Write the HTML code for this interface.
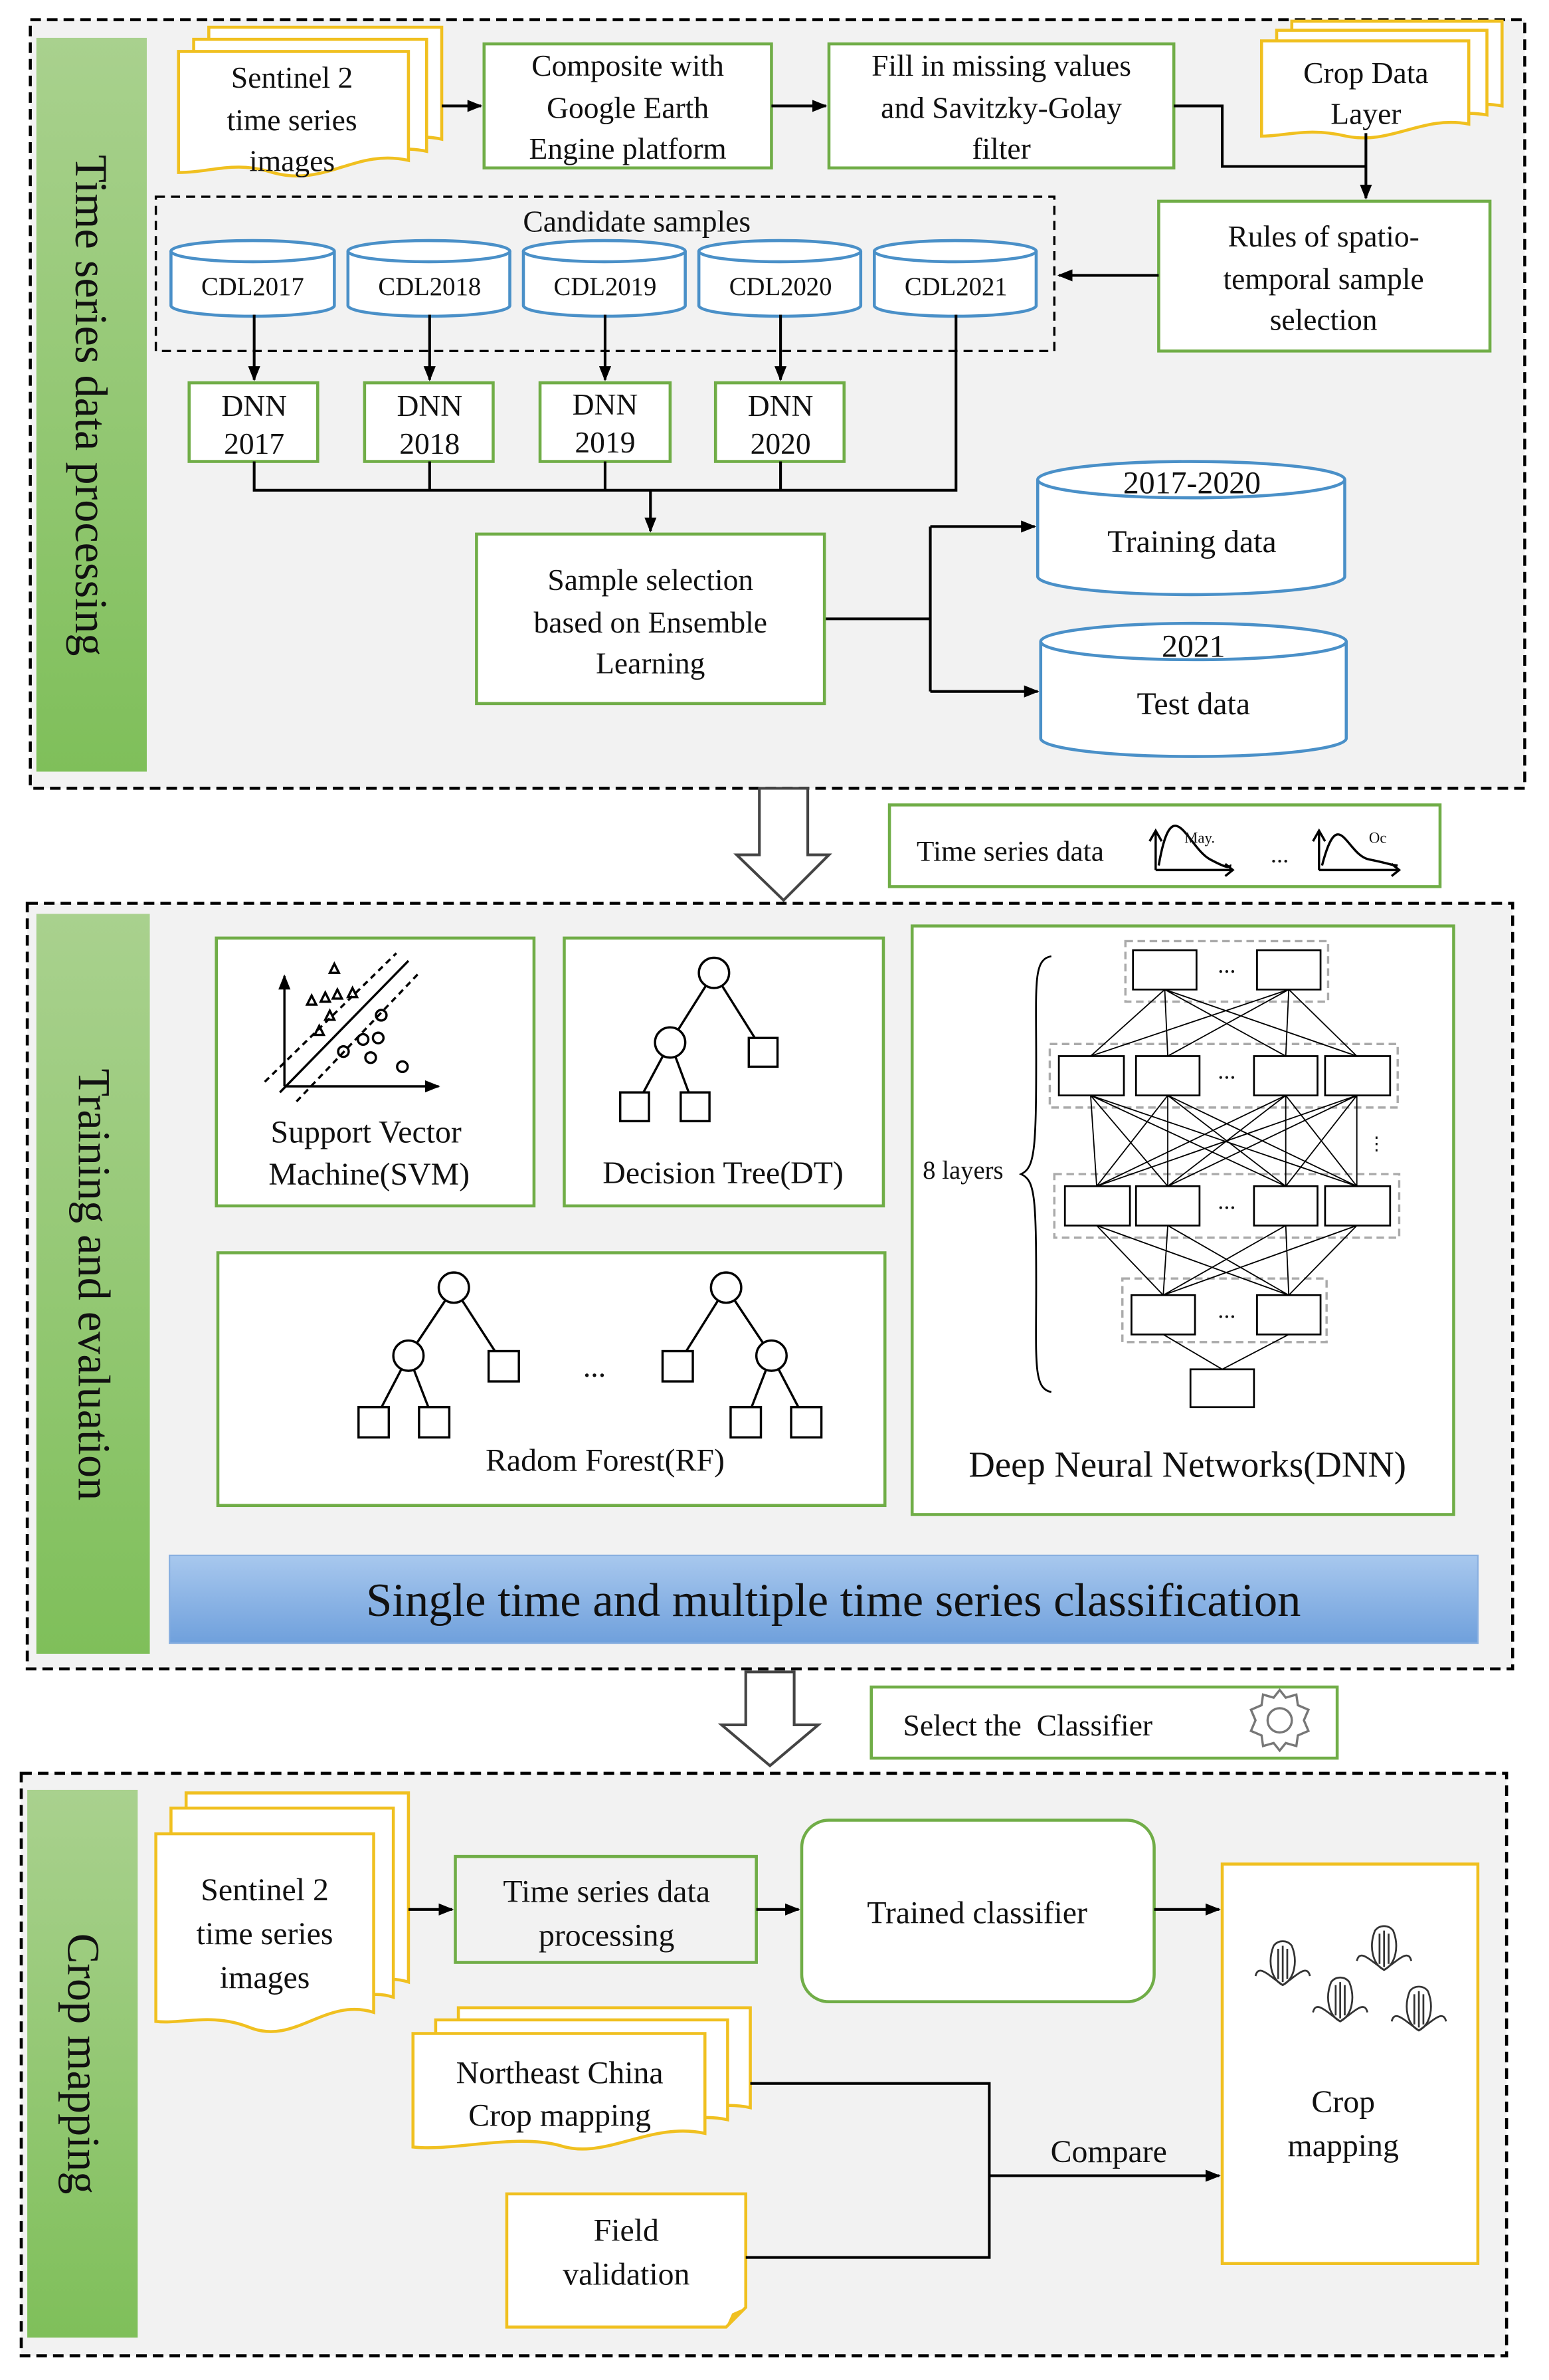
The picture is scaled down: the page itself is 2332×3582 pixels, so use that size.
<!DOCTYPE html>
<html><head><meta charset="utf-8"><style>
html,body{margin:0;padding:0;background:#fff}
svg{display:block;font-family:"Liberation Serif","Times New Roman",serif}
svg text{font-family:"Liberation Serif","Times New Roman",serif !important;fill:#111}
</style></head><body>
<svg width="2332" height="3582" viewBox="0 0 1024 1573" xmlns="http://www.w3.org/2000/svg" font-family="Liberation Serif, serif">
<defs>
<linearGradient id="g" x1="0" y1="0" x2="0" y2="1"><stop offset="0" stop-color="#a9d18e"/><stop offset="1" stop-color="#7fbf5a"/></linearGradient>
<linearGradient id="b" x1="0" y1="0" x2="0" y2="1"><stop offset="0" stop-color="#a8c8ee"/><stop offset="1" stop-color="#6fa0dc"/></linearGradient>
<marker id="a" markerWidth="10" markerHeight="8" refX="9" refY="4" orient="auto" markerUnits="userSpaceOnUse"><path d="M0,0 L10,4 L0,8 Z" fill="#000"/></marker>
</defs>
<rect width="1024" height="1573" fill="#fff"/>
<!-- Section 1 -->
<rect x="20" y="13" width="988" height="508" fill="#f2f2f2" stroke="#000" stroke-width="2" stroke-dasharray="7,4"/>
<rect x="24" y="25" width="73" height="485" fill="url(#g)"/>
<text transform="translate(50,268) rotate(90)" text-anchor="middle" font-size="30" font-family="Liberation Serif, serif">Time series data processing</text>
<g fill="#fff" stroke="#f0c020" stroke-width="2">
<path d="M138,18 H292 V92 C255,84 235,112 200,100 C175,92 160,100 138,100 Z"/>
<path d="M128,26 H282 V100 C245,92 225,120 190,108 C165,100 150,108 128,108 Z"/>
<path d="M118,34 H270 V106 C235,98 215,124 180,114 C155,106 140,114 118,114 Z"/>
<path d="M854,14 H993 V70 C960,64 940,86 910,78 C885,72 870,78 854,78 Z"/>
<path d="M844,20 H983 V76 C950,70 930,92 900,84 C875,78 860,84 844,84 Z"/>
<path d="M834,27 H971 V82 C940,76 920,96 890,90 C865,84 850,90 834,90 Z"/>
</g>
<g font-size="20" text-anchor="middle" font-family="Liberation Serif, serif">
<text x="193" y="58">Sentinel 2</text><text x="193" y="86">time series</text><text x="193" y="113">images</text>
<text x="903" y="55">Crop Data</text><text x="903" y="82">Layer</text>
</g>
<g fill="#fff" stroke="#70ad47" stroke-width="2">
<rect x="320" y="29" width="190" height="82"/><rect x="548" y="29" width="228" height="82"/>
<rect x="766" y="133" width="219" height="99"/>
</g>
<g font-size="20" text-anchor="middle" font-family="Liberation Serif, serif">
<text x="415" y="50">Composite with</text><text x="415" y="78">Google Earth</text><text x="415" y="105">Engine platform</text>
<text x="662" y="50">Fill in missing values</text><text x="662" y="78">and Savitzky-Golay</text><text x="662" y="105">filter</text>
<text x="875" y="163">Rules of spatio-</text><text x="875" y="191">temporal sample</text><text x="875" y="218">selection</text>
</g>
<g stroke="#000" stroke-width="1.8" fill="none">
<line x1="292" y1="70" x2="318" y2="70" marker-end="url(#a)"/>
<line x1="510" y1="70" x2="546" y2="70" marker-end="url(#a)"/>
<polyline points="776,70 808,70 808,110 903,110"/>
<line x1="903" y1="88" x2="903" y2="131" marker-end="url(#a)"/>
<line x1="766" y1="182" x2="700" y2="182" marker-end="url(#a)"/>
</g>
<rect x="103" y="130" width="594" height="102" fill="none" stroke="#000" stroke-width="1.5" stroke-dasharray="6,4"/>
<text x="421" y="153" font-size="20" text-anchor="middle" font-family="Liberation Serif, serif">Candidate samples</text>
<g fill="#fff" stroke="#4a90c8" stroke-width="2">
<path d="M113,166 V202 A54,7 0 0 0 221,202 V166"/><ellipse cx="167" cy="166" rx="54" ry="7"/>
<path d="M230,166 V202 A53.5,7 0 0 0 337,202 V166"/><ellipse cx="283.5" cy="166" rx="53.5" ry="7"/>
<path d="M346,166 V202 A53.5,7 0 0 0 453,202 V166"/><ellipse cx="399.5" cy="166" rx="53.5" ry="7"/>
<path d="M462,166 V202 A53.5,7 0 0 0 569,202 V166"/><ellipse cx="515.5" cy="166" rx="53.5" ry="7"/>
<path d="M578,166 V202 A53.5,7 0 0 0 685,202 V166"/><ellipse cx="631.5" cy="166" rx="53.5" ry="7"/>
</g>
<g font-size="17" text-anchor="middle" font-family="Liberation Serif, serif">
<text x="167" y="195">CDL2017</text><text x="284" y="195">CDL2018</text><text x="400" y="195">CDL2019</text><text x="516" y="195">CDL2020</text><text x="632" y="195">CDL2021</text>
</g>
<g fill="#fff" stroke="#70ad47" stroke-width="2">
<rect x="125" y="253" width="85" height="52"/><rect x="241" y="253" width="85" height="52"/>
<rect x="357" y="253" width="86" height="52"/><rect x="473" y="253" width="85" height="52"/>
</g>
<g font-size="20" text-anchor="middle" font-family="Liberation Serif, serif">
<text x="168" y="275">DNN</text><text x="168" y="300">2017</text>
<text x="284" y="275">DNN</text><text x="284" y="300">2018</text>
<text x="400" y="274">DNN</text><text x="400" y="299">2019</text>
<text x="516" y="275">DNN</text><text x="516" y="300">2020</text>
</g>
<g stroke="#000" stroke-width="1.8" fill="none">
<line x1="168" y1="208" x2="168" y2="251" marker-end="url(#a)"/>
<line x1="284" y1="208" x2="284" y2="251" marker-end="url(#a)"/>
<line x1="400" y1="208" x2="400" y2="251" marker-end="url(#a)"/>
<line x1="516" y1="208" x2="516" y2="251" marker-end="url(#a)"/>
<polyline points="168,305 168,324 632,324 632,208"/>
<line x1="284" y1="305" x2="284" y2="324"/><line x1="400" y1="305" x2="400" y2="324"/><line x1="516" y1="305" x2="516" y2="324"/>
<line x1="430" y1="324" x2="430" y2="351" marker-end="url(#a)"/>
<line x1="545" y1="409" x2="615" y2="409"/>
<line x1="615" y1="348" x2="615" y2="457"/>
<line x1="615" y1="348" x2="684" y2="348" marker-end="url(#a)"/>
<line x1="615" y1="457" x2="686" y2="457" marker-end="url(#a)"/>
</g>
<rect x="315" y="353" width="230" height="112" fill="#fff" stroke="#70ad47" stroke-width="2"/>
<g font-size="20" text-anchor="middle" font-family="Liberation Serif, serif">
<text x="430" y="390">Sample selection</text><text x="430" y="418">based on Ensemble</text><text x="430" y="445">Learning</text>
</g>
<g fill="#fff" stroke="#4a90c8" stroke-width="2">
<path d="M686,317 V381 A101.5,12 0 0 0 889,381 V317"/><ellipse cx="787.5" cy="317" rx="101.5" ry="12"/>
<path d="M688,424 V488 A101,12 0 0 0 890,488 V424"/><ellipse cx="789" cy="424" rx="101" ry="12"/>
</g>
<g font-size="21" text-anchor="middle" font-family="Liberation Serif, serif">
<text x="788" y="326">2017-2020</text><text x="788" y="365">Training data</text>
<text x="789" y="434">2021</text><text x="789" y="472">Test data</text>
</g>
<!-- arrow 1 -->
<path d="M502,521 H534 V565 H548 L518,595 L487,565 H502 Z" fill="#fff" stroke="#444" stroke-width="1.8"/>
<rect x="588" y="532" width="364" height="54" fill="#fff" stroke="#70ad47" stroke-width="2"/>
<text x="606" y="569" font-size="19" font-family="Liberation Serif, serif">Time series data</text>
<g stroke="#000" fill="none" stroke-width="1.5">
<path d="M764,575 V550 M760,556 L764,549 L768,556 M764,575 H815 M810,571 L815,575 L810,579"/>
<path d="M766,572 C775,520 785,560 800,568 S812,572 814,572"/>
<path d="M872,575 V550 M868,556 L872,549 L876,556 M872,575 H925 M920,571 L925,575 L920,579"/>
<path d="M874,572 C885,530 890,565 905,568 S920,572 924,572"/>
</g>
<text x="783" y="557" font-size="10" font-family="Liberation Serif, serif">May.</text><text x="905" y="557" font-size="10" font-family="Liberation Serif, serif">Oc</text>
<text x="840" y="570" font-size="16" font-family="Liberation Serif, serif">...</text>
<!-- Section 2 -->
<rect x="18" y="597" width="982" height="506" fill="#f2f2f2" stroke="#000" stroke-width="2" stroke-dasharray="7,4"/>
<rect x="24" y="604" width="75" height="489" fill="url(#g)"/>
<text transform="translate(52,849) rotate(90)" text-anchor="middle" font-size="30" font-family="Liberation Serif, serif">Training and evaluation</text>
<g fill="#fff" stroke="#70ad47" stroke-width="2">
<rect x="143" y="620" width="210" height="177"/><rect x="373" y="620" width="211" height="177"/>
<rect x="603" y="612" width="358" height="389"/><rect x="144" y="828" width="441" height="167"/>
</g>
<!-- SVM -->
<g stroke="#000" fill="none" stroke-width="1.5">
<line x1="188" y1="718" x2="188" y2="645" marker-end="url(#a)"/>
<line x1="188" y1="718" x2="290" y2="718" marker-end="url(#a)"/>
<line x1="175" y1="715" x2="262" y2="630" stroke-dasharray="4,3"/>
<line x1="185" y1="722" x2="270" y2="635"/>
<line x1="196" y1="728" x2="278" y2="642" stroke-dasharray="4,3"/>
<circle cx="227" cy="695" r="3.5"/><circle cx="240" cy="687" r="3.5"/><circle cx="252" cy="671" r="3.5"/><circle cx="250" cy="686" r="3.5"/><circle cx="245" cy="699" r="3.5"/><circle cx="266" cy="705" r="3.5"/>
<path d="M203,664 l3,-6 l3,6 z M212,662 l3,-6 l3,6 z M220,660 l3,-6 l3,6 z M230,659 l3,-6 l3,6 z M218,643 l3,-6 l3,6 z M208,684 l3,-6 l3,6 z M215,674 l3,-6 l3,6 z"/>
</g>
<g font-size="21" text-anchor="middle" font-family="Liberation Serif, serif"><text x="242" y="755">Support Vector</text><text x="244" y="783">Machine(SVM)</text>
<text x="478" y="782">Decision Tree(DT)</text></g>
<!-- DT -->
<g stroke="#000" fill="#fff" stroke-width="1.5">
<line x1="472" y1="643" x2="443" y2="689"/><line x1="472" y1="643" x2="504" y2="694"/>
<line x1="443" y1="689" x2="420" y2="732"/><line x1="443" y1="689" x2="459" y2="732"/>
<circle cx="472" cy="643" r="10"/><circle cx="443" cy="689" r="10"/>
<rect x="495" y="686" width="19" height="19"/><rect x="410" y="722" width="19" height="19"/><rect x="450" y="722" width="19" height="19"/>
</g>
<!-- RF -->
<g stroke="#000" fill="#fff" stroke-width="1.5">
<line x1="300" y1="851" x2="270" y2="896"/><line x1="300" y1="851" x2="333" y2="902"/>
<line x1="270" y1="896" x2="247" y2="940"/><line x1="270" y1="896" x2="287" y2="940"/>
<circle cx="300" cy="851" r="10"/><circle cx="270" cy="896" r="10"/>
<rect x="323" y="893" width="20" height="20"/><rect x="237" y="930" width="20" height="20"/><rect x="277" y="930" width="20" height="20"/>
<line x1="480" y1="851" x2="448" y2="902"/><line x1="480" y1="851" x2="510" y2="896"/>
<line x1="510" y1="896" x2="493" y2="940"/><line x1="510" y1="896" x2="533" y2="940"/>
<circle cx="480" cy="851" r="10"/><circle cx="510" cy="896" r="10"/>
<rect x="438" y="893" width="20" height="20"/><rect x="483" y="930" width="20" height="20"/><rect x="523" y="930" width="20" height="20"/>
</g>
<text x="393" y="910" font-size="20" text-anchor="middle" font-family="Liberation Serif, serif">...</text>
<text x="400" y="972" font-size="21" text-anchor="middle" font-family="Liberation Serif, serif">Radom Forest(RF)</text>
<!-- DNN -->
<g fill="none" stroke="#aaa" stroke-width="1.5" stroke-dasharray="5,3">
<rect x="744" y="622" width="134" height="40"/><rect x="694" y="690" width="230" height="42"/>
<rect x="697" y="776" width="228" height="42"/><rect x="742" y="845" width="135" height="42"/>
</g>
<g stroke="#000" stroke-width="0.8" fill="none">
<path d="M770,654 L721,698 M770,654 L772,698 M770,654 L850,698 M770,654 L897,698 M852,654 L721,698 M852,654 L772,698 M852,654 L850,698 M852,654 L897,698"/>
<path d="M721,724 L725,784 M721,724 L772,784 M721,724 L850,784 M721,724 L897,784 M772,724 L725,784 M772,724 L772,784 M772,724 L850,784 M772,724 L897,784 M850,724 L725,784 M850,724 L772,784 M850,724 L850,784 M850,724 L897,784 M897,724 L725,784 M897,724 L772,784 M897,724 L850,784 M897,724 L897,784"/>
<path d="M725,810 L769,856 M725,810 L852,856 M772,810 L769,856 M772,810 L852,856 M850,810 L769,856 M850,810 L852,856 M897,810 L769,856 M897,810 L852,856"/>
<path d="M769,882 L808,905 M852,882 L808,905"/>
</g>
<g fill="#fff" stroke="#000" stroke-width="1.2">
<rect x="749" y="628" width="42" height="26"/><rect x="831" y="628" width="42" height="26"/>
<rect x="700" y="698" width="43" height="26"/><rect x="751" y="698" width="42" height="26"/><rect x="829" y="698" width="42" height="26"/><rect x="876" y="698" width="43" height="26"/>
<rect x="704" y="784" width="43" height="26"/><rect x="751" y="784" width="42" height="26"/><rect x="829" y="784" width="42" height="26"/><rect x="876" y="784" width="43" height="26"/>
<rect x="748" y="856" width="42" height="26"/><rect x="831" y="856" width="42" height="26"/>
<rect x="787" y="905" width="42" height="25"/>
</g>
<g font-size="16" text-anchor="middle" font-family="Liberation Serif, serif"><text x="811" y="643">...</text><text x="811" y="713">...</text><text x="811" y="799">...</text><text x="811" y="871">...</text><text x="910" y="760" font-size="12">⋮</text></g>
<path d="M695,632 C683,634 685,650 685,700 C685,760 684,772 675,776 C684,780 685,790 685,850 C685,900 683,918 695,920" fill="none" stroke="#000" stroke-width="1.2"/>
<text x="610" y="779" font-size="17" font-family="Liberation Serif, serif">8 layers</text>
<text x="785" y="976" font-size="24" text-anchor="middle" font-family="Liberation Serif, serif">Deep Neural Networks(DNN)</text>
<rect x="112" y="1028" width="865" height="58" fill="url(#b)" stroke="#8ab0e0"/>
<text x="551" y="1068" font-size="31" text-anchor="middle" font-family="Liberation Serif, serif">Single time and multiple time series classification</text>
<!-- arrow 2 -->
<path d="M493,1105 H525 V1140 H541 L509,1167 L477,1140 H493 Z" fill="#fff" stroke="#444" stroke-width="1.8"/>
<rect x="576" y="1115" width="308" height="47" fill="#fff" stroke="#70ad47" stroke-width="2"/>
<text x="597" y="1147" font-size="20" font-family="Liberation Serif, serif">Select the&#160; Classifier</text>
<g transform="translate(846,1137)" fill="none" stroke="#777" stroke-width="1.5">
<circle r="8"/><path d="M0,-20 L4,-15 L11,-17 L12,-10 L19,-7 L16,0 L19,7 L12,10 L11,17 L4,15 L0,20 L-4,15 L-11,17 L-12,10 L-19,7 L-16,0 L-19,-7 L-12,-10 L-11,-17 L-4,-15 Z"/>
</g>
<!-- Section 3 -->
<rect x="14" y="1172" width="982" height="385" fill="#f2f2f2" stroke="#000" stroke-width="2" stroke-dasharray="7,4"/>
<rect x="18" y="1183" width="73" height="362" fill="url(#g)"/>
<text transform="translate(45,1364) rotate(90)" text-anchor="middle" font-size="30" font-family="Liberation Serif, serif">Crop mapping</text>
<g fill="#fff" stroke="#f0c020" stroke-width="2">
<path d="M123,1185 H270 V1310 C240,1300 215,1335 185,1322 C160,1312 140,1320 123,1318 Z"/>
<path d="M113,1195 H260 V1320 C230,1310 205,1345 175,1332 C150,1322 130,1330 113,1328 Z"/>
<path d="M103,1212 H247 V1330 C215,1320 195,1352 165,1340 C140,1330 120,1338 103,1336 Z"/>
<path d="M303,1327 H496 V1393 C460,1385 430,1412 400,1402 C370,1393 330,1405 303,1402 Z"/>
<path d="M288,1335 H481 V1401 C445,1393 415,1420 385,1410 C355,1401 315,1413 288,1410 Z"/>
<path d="M273,1344 H466 V1410 C430,1402 400,1428 370,1418 C340,1410 300,1422 273,1419 Z"/>
<path d="M335,1450 H493 V1525 L480,1538 H335 Z"/>
<rect x="808" y="1232" width="169" height="264"/>
</g>
<path d="M480,1538 L484,1529 L493,1525 Z" fill="#f0c020"/>
<g font-size="21" text-anchor="middle" font-family="Liberation Serif, serif">
<text x="175" y="1256">Sentinel 2</text><text x="175" y="1285">time series</text><text x="175" y="1314">images</text>
<text x="370" y="1377">Northeast China</text><text x="370" y="1405">Crop mapping</text>
<text x="414" y="1481">Field</text><text x="414" y="1510">validation</text>
<text x="888" y="1396">Crop</text><text x="888" y="1425">mapping</text>
<text x="401" y="1257">Time series data</text><text x="401" y="1286">processing</text>
<text x="733" y="1429">Compare</text>
</g>
<rect x="301" y="1227" width="199" height="70" fill="none" stroke="#70ad47" stroke-width="2"/>
<rect x="530" y="1203" width="233" height="120" rx="18" fill="#fff" stroke="#70ad47" stroke-width="2"/>
<text x="646" y="1271" font-size="21" text-anchor="middle" font-family="Liberation Serif, serif">Trained classifier</text>
<g stroke="#000" stroke-width="1.8" fill="none">
<line x1="270" y1="1262" x2="299" y2="1262" marker-end="url(#a)"/>
<line x1="500" y1="1262" x2="528" y2="1262" marker-end="url(#a)"/>
<line x1="763" y1="1262" x2="806" y2="1262" marker-end="url(#a)"/>
<polyline points="496,1377 654,1377 654,1492 493,1492"/>
<line x1="654" y1="1438" x2="806" y2="1438" marker-end="url(#a)"/>
</g>
<g fill="#fff" stroke="#333" stroke-width="1.2">
<g transform="translate(848,1300)"><path d="M-6,-14 C-10,-4 -8,8 0,12 C8,8 10,-4 6,-14 C3,-18 -3,-18 -6,-14 Z"/><path d="M0,12 C-10,5 -16,-2 -18,6 M0,12 C10,5 16,-2 18,6" fill="none"/><path d="M-3,-12 V8 M0,-14 V10 M3,-12 V8"/></g>
<g transform="translate(915,1290)"><path d="M-6,-14 C-10,-4 -8,8 0,12 C8,8 10,-4 6,-14 C3,-18 -3,-18 -6,-14 Z"/><path d="M0,12 C-10,5 -16,-2 -18,6 M0,12 C10,5 16,-2 18,6" fill="none"/><path d="M-3,-12 V8 M0,-14 V10 M3,-12 V8"/></g>
<g transform="translate(886,1324)"><path d="M-6,-14 C-10,-4 -8,8 0,12 C8,8 10,-4 6,-14 C3,-18 -3,-18 -6,-14 Z"/><path d="M0,12 C-10,5 -16,-2 -18,6 M0,12 C10,5 16,-2 18,6" fill="none"/><path d="M-3,-12 V8 M0,-14 V10 M3,-12 V8"/></g>
<g transform="translate(938,1330)"><path d="M-6,-14 C-10,-4 -8,8 0,12 C8,8 10,-4 6,-14 C3,-18 -3,-18 -6,-14 Z"/><path d="M0,12 C-10,5 -16,-2 -18,6 M0,12 C10,5 16,-2 18,6" fill="none"/><path d="M-3,-12 V8 M0,-14 V10 M3,-12 V8"/></g>
</g>
</svg>
</body></html>
